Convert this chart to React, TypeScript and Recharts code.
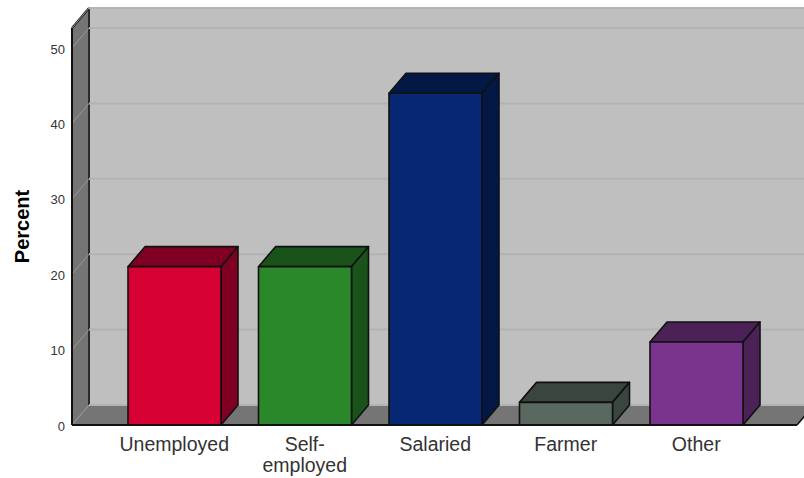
import React from 'react';
import { BarChart, Bar, XAxis, YAxis, CartesianGrid, ReferenceArea } from 'recharts';

const categories = ['Unemployed', 'Self-employed', 'Salaried', 'Farmer', 'Other'];
const percents = [21, 21, 44, 3, 11];
const percentTicks = [0, 10, 20, 30, 40, 50];

const frontColors = ['#D70033', '#2A872A', '#072673', '#596960', '#79358E'];
const shadeColors = ['#7F0022', '#1A531A', '#041845', '#3A4540', '#4B2158'];

const tableData = categories.map((name, i) => ({ name, percent: percents[i] }));

// how far the back of the box sits from the front plane
const DEPTH_X = 17;
const DEPTH_Y = 20;
const PAD_LEFT = 37;
const PAD_RIGHT = 35.5;
const WALL = '#BFBFBF';
const SIDE = '#757575';
const GRID = '#B3B3B3';
const EDGE = '#111111';

const Box = (props: any) => {
  const { x, y, width, height, index } = props;
  const right = x + width;
  const bottom = y + height;
  return (
    <g stroke={EDGE} strokeWidth={1.6} strokeLinejoin="round">
      <polygon
        points={`${x},${y} ${x + DEPTH_X},${y - DEPTH_Y} ${right + DEPTH_X},${y - DEPTH_Y} ${right},${y}`}
        fill={shadeColors[index]}
      />
      <polygon
        points={`${right},${y} ${right + DEPTH_X},${y - DEPTH_Y} ${right + DEPTH_X},${bottom - DEPTH_Y} ${right},${bottom}`}
        fill={shadeColors[index]}
      />
      <rect x={x} y={y} width={width} height={height} fill={frontColors[index]} />
    </g>
  );
};

// back wall, left wall and floor of the box; the area only spans the category
// bands, so it is widened again by the axis padding
const Room = (props: any) => {
  const { y, height } = props;
  const x = props.x - PAD_LEFT;
  const right = props.x + props.width + PAD_RIGHT;
  const bottom = y + height;
  const backX = x + DEPTH_X;
  const backTop = y - DEPTH_Y;
  const backBottom = bottom - DEPTH_Y;
  return (
    <g>
      <rect x={backX} y={backTop} width={right - x} height={height} fill={WALL} />
      <polygon points={`${x},${y} ${backX},${backTop} ${backX},${backBottom} ${x},${bottom}`} fill={SIDE} />
      <polygon
        points={`${x},${bottom} ${backX},${backBottom} ${right + DEPTH_X},${backBottom} ${right},${bottom}`}
        fill={SIDE}
      />
      <line x1={backX} y1={backTop} x2={right + DEPTH_X} y2={backTop} stroke="#2A2A2A" strokeWidth={2} />
      <line x1={x} y1={y} x2={backX} y2={backTop} stroke="#111" strokeWidth={2} />
      <line x1={backX} y1={backTop} x2={backX} y2={backBottom} stroke="#2A2A2A" strokeWidth={2} />
      <line x1={right} y1={bottom} x2={right + DEPTH_X} y2={backBottom} stroke="#111" strokeWidth={1.5} />
    </g>
  );
};

const GridStep = (props: any) => {
  const { x1, x2, y1 } = props;
  return (
    <g>
      <line x1={x1} y1={y1} x2={x1 + DEPTH_X} y2={y1 - DEPTH_Y} stroke="#989898" strokeWidth={1} />
      <line x1={x1 + DEPTH_X} y1={y1 - DEPTH_Y} x2={x2 + DEPTH_X} y2={y1 - DEPTH_Y} stroke={GRID} strokeWidth={2} />
    </g>
  );
};

// long names break after the hyphen
const CategoryTick = (props: any) => {
  const { x, y, payload } = props;
  const lines = payload.value.replace('-', '-\n').split('\n');
  return (
    <text x={x} y={y} textAnchor="middle" fontFamily="Liberation Sans" fontSize={19.5} fill="#333">
      {lines.map((line: string, i: number) => (
        <tspan key={line} x={x} dy={i === 0 ? 18 : 21}>
          {line}
        </tspan>
      ))}
    </text>
  );
};

export default function App() {
  return (
    <div style={{ position: 'absolute', left: 0, top: 0, width: 804, height: 478, overflow: 'hidden' }}>
      <BarChart
        width={804}
        height={478}
        data={tableData}
        margin={{ top: 28, right: 7, bottom: 0, left: 0 }}
      >
        <ReferenceArea y1={0} y2={52.65} ifOverflow="visible" shape={Room} zIndex={-200} />
        <CartesianGrid vertical={false} horizontal={GridStep} zIndex={-150} />
        <XAxis
          dataKey="name"
          height={53}
          interval={0}
          padding={{ left: PAD_LEFT, right: PAD_RIGHT }}
          tick={CategoryTick}
          tickLine={false}
          axisLine={{ stroke: EDGE, strokeWidth: 2 }}
        />
        <YAxis
          width={72}
          domain={[0, 52.65]}
          ticks={percentTicks}
          tickLine={false}
          tickSize={0}
          tickMargin={7}
          axisLine={{ stroke: EDGE, strokeWidth: 2 }}
          tick={{ fontFamily: 'Liberation Sans', fontSize: 13, fill: '#333', dy: 1 }}
          label={{
            value: 'Percent',
            angle: -90,
            position: 'insideLeft',
            offset: 22,
            style: { fontFamily: 'Liberation Sans', fontSize: 20, fontWeight: 700, fill: '#000', textAnchor: 'middle' },
          }}
        />
        <Bar dataKey="percent" barSize={93} shape={Box} isAnimationActive={false} />
      </BarChart>
    </div>
  );
}
